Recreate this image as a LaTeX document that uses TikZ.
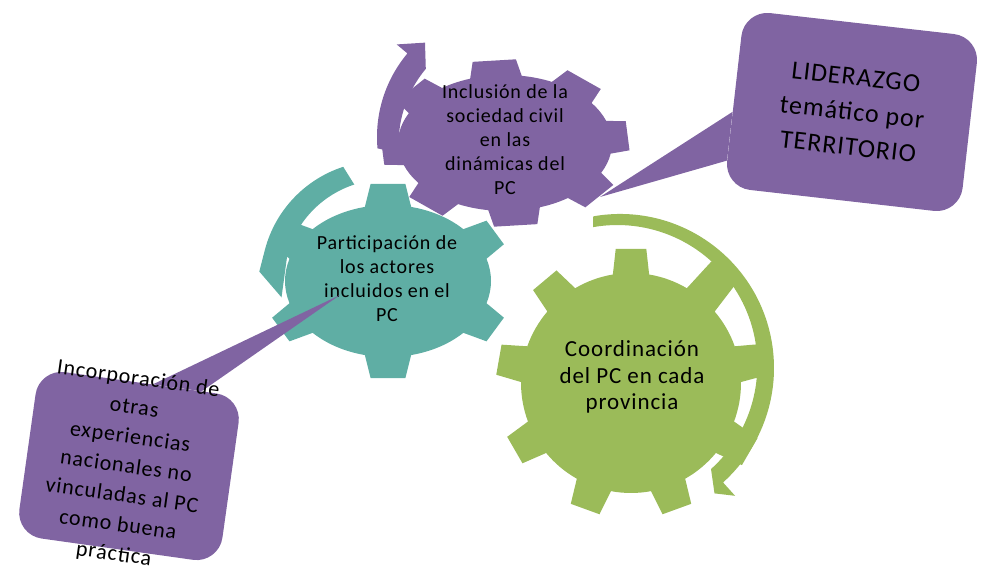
\documentclass[tikz,border=0pt]{standalone}
\usepackage{fontspec}
\setmainfont{Carlito}[LetterSpace=4]
\usetikzlibrary{calc}
\definecolor{gearteal}{RGB}{95,174,164}
\definecolor{gearpurple}{RGB}{128,100,162}
\definecolor{geargreen}{RGB}{155,187,89}

\begin{document}
\begin{tikzpicture}[
    x=1pt, y=1pt,
    gearlabel/.style={align=center, inner sep=0pt, font=\fontsize{20}{24}\selectfont},
    bubble/.style={fill=gearpurple, rounded corners=26pt, inner sep=0pt},
    bubbletext/.style={align=center, inner sep=0pt}]
    \useasboundingbox (0,0) rectangle (987,580);

    \begin{scope}[shift={(620,212)}]
        \fill[geargreen] (100:154) arc[start angle=100, end angle=-48, radius=154]
            -- (-48:172) -- (-53:157) -- (-48:136) arc[start angle=-48, end angle=100, radius=140] -- cycle;
    \end{scope}
    \begin{scope}[shift={(631,197)}]
        \fill[geargreen] (80.5:110)
            \foreach \ang/\len in {90/135,130/135,170/135,210/135,250/135,290/135,330/138,370/138,410/146} {
                -- ({\ang-9.5}:110) -- ({\ang-6.5}:\len) -- ({\ang+6.5}:\len) -- ({\ang+9.5}:110)
                arc[start angle=\ang+9.5, end angle=\ang+30.5, radius=110]} -- cycle;
    \end{scope}

    \begin{scope}[shift={(380,300)}]
        \fill[gearteal] (108:119) arc[start angle=108, end angle=165, radius=119]
            -- (176:121) -- (190:100) -- (165:96) arc[start angle=165, end angle=108, radius=102] -- cycle;
    \end{scope}
    \begin{scope}[shift={(388,299)}]
        \fill[gearteal] (17:103 and 76)
            \foreach \ang in {30,90,...,330} {
                -- ({\ang-13}:103 and 76) -- ({\ang-8}:125 and 98) -- ({\ang+8}:125 and 98) -- ({\ang+13}:103 and 76)
                arc[start angle=\ang+13, end angle=\ang+47, x radius=103, y radius=76]} -- cycle;
    \end{scope}

    \begin{scope}[shift={(507,443)}]
        \fill[gearpurple] (185:130) arc[start angle=185, end angle=140, radius=130]
            -- (140:144) -- (131:125) -- (140:106) arc[start angle=140, end angle=185, radius=116] -- cycle;
    \end{scope}
    \begin{scope}[shift={(505,437)}]
        \fill[gearpurple] (81:107 and 68)
            \foreach \ang in {95,140,...,410} {
                -- ({\ang-14}:107 and 68) -- ({\ang-10}:125 and 84) -- ({\ang+10}:125 and 84) -- ({\ang+14}:107 and 68)
                arc[start angle=\ang+14, end angle=\ang+31, x radius=107, y radius=68]} -- cycle;
    \end{scope}

    \node[gearlabel, font=\fontsize{23}{26.5}\selectfont] (coord) at (632,203) {Coordinación\\del PC en cada\\provincia};
    \node[gearlabel] (partic) at (387,301) {Participación de\\los actores\\incluidos en el\\PC};
    \node[gearlabel] (inclus) at (505,440) {Inclusión de la\\sociedad civil\\en las\\dinámicas del\\PC};

    \node[bubble, minimum width=237pt, minimum height=178pt, rotate=-6.5,
        bubbletext, font=\fontsize{26}{35}\selectfont] (lider) at (852,468) {LIDERAZGO\\temático por\\TERRITORIO};
    \coordinate (lidertip) at (600,383);
    \fill[gearpurple] (lidertip) -- ($(lider.west)!0.15!(lider.south west)$) -- ($(lider.west)!0.7!(lider.south west)$) -- cycle;

    \node[bubble, minimum width=205pt, minimum height=168pt, rotate=-8] (incbox) at (129,114) {};
    \coordinate (inctip) at (340,285);
    \fill[gearpurple] (inctip) -- ($(incbox.north)!0.12!(incbox.north east)$) -- ($(incbox.north)!0.6!(incbox.north east)$) -- cycle;
    \node[bubbletext, rotate=-8, font=\fontsize{22}{29.5}\selectfont] (inctext) at (126,113)
        {Incorporación de\\otras\\experiencias\\nacionales no\\vinculadas al PC\\como buena\\práctica};
\end{tikzpicture}
\end{document}
